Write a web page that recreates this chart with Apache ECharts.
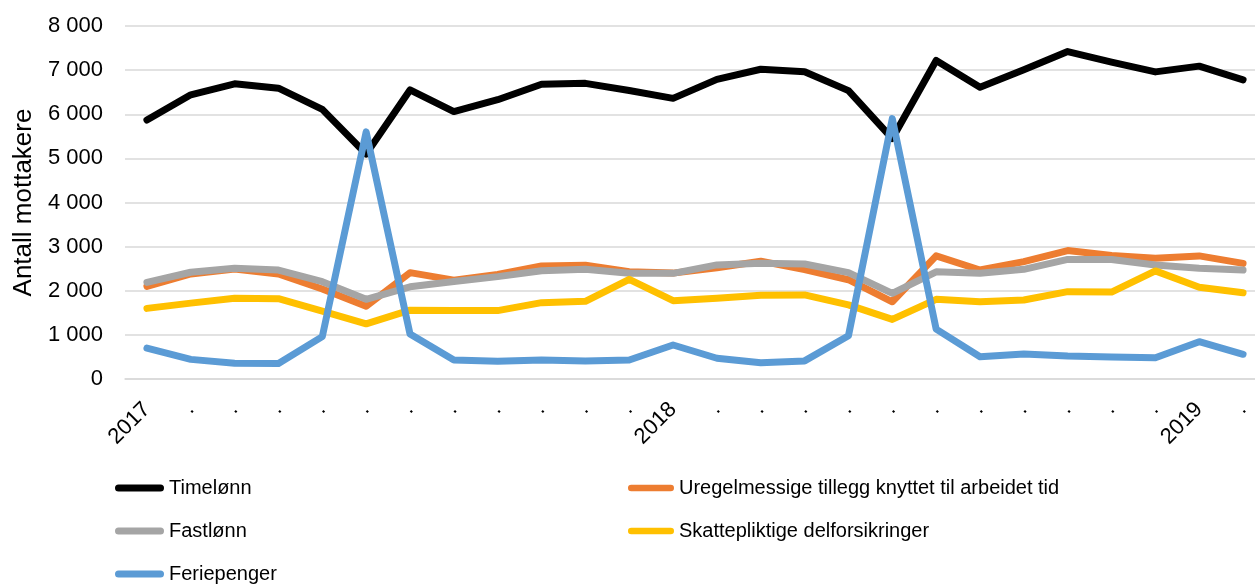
<!DOCTYPE html>
<html>
<head>
<meta charset="utf-8">
<script src="https://cdn.jsdelivr.net/npm/echarts@6/dist/echarts.min.js"></script>
<style>
  html, body { margin: 0; padding: 0; background: #fff; overflow: hidden; }
  /* a bit wider than the window: the last month is cut at the right edge */
  #chart { width: 1266px; height: 586px; }
</style>
</head>
<body>
<div id="chart"></div>
<script>
// months jan 2017 - feb 2019, only year starts are labelled
const months = ["2017", ".", ".", ".", ".", ".", ".", ".", ".", ".", ".", ".",
  "2018", ".", ".", ".", ".", ".", ".", ".", ".", ".", ".", ".",
  "2019", "."];

const timelonn = [5870, 6440, 6690, 6590, 6110, 5100, 6550, 6060, 6330, 6680, 6700, 6540,
  6360, 6790, 7020, 6965, 6535, 5450, 7220, 6610, 7010, 7420, 7180, 6960, 7090, 6780];
const uregelmessige = [2100, 2380, 2490, 2380, 2040, 1650, 2410, 2240, 2370, 2560, 2580, 2430,
  2400, 2520, 2670, 2480, 2250, 1750, 2790, 2470, 2660, 2910, 2800, 2735, 2790, 2620];
const fastlonn = [2190, 2420, 2510, 2470, 2205, 1805, 2090, 2210, 2320, 2455, 2485, 2395,
  2395, 2585, 2625, 2605, 2410, 1940, 2430, 2395, 2485, 2710, 2710, 2585, 2510, 2470];
const skattepliktige = [1600, 1720, 1830, 1820, 1540, 1250, 1560, 1550, 1550, 1730, 1760, 2260,
  1775, 1830, 1900, 1905, 1680, 1350, 1805, 1750, 1790, 1980, 1970, 2450, 2080, 1955];
const feriepenger = [700, 445, 355, 350, 960, 5600, 1020, 430, 400, 430, 410, 430,
  770, 470, 370, 410, 980, 5900, 1130, 505, 565, 520, 500, 480, 845, 560];

const yTicks = { min: 0, max: 8000, step: 1000 };

const font = "'Liberation Sans', Arial, sans-serif";
const fmt = v => String(v).replace(/\B(?=(\d{3})+(?!\d))/g, " ");
const pill = "path://M3.5,0 H45.5 A3.5,3.5 0 0 1 45.5,7 H3.5 A3.5,3.5 0 0 1 3.5,0 Z";

const mkLine = (name, data, color) => ({
  name: name,
  type: "line",
  data: data,
  color: color,
  showSymbol: false,
  symbol: "none",
  lineStyle: { width: 7, color: color, cap: "round", join: "round" },
  emphasis: { disabled: true }
});

const chart = echarts.init(document.getElementById("chart"));
chart.setOption({
  animation: false,
  textStyle: { fontFamily: font, color: "#000" },
  grid: { left: 125, top: 26, right: 1, bottom: 207, containLabel: false },
  legend: [
    {
      orient: "vertical",
      left: 115,
      top: 478,
      padding: 0,
      itemGap: 23,
      itemWidth: 49,
      itemHeight: 7,
      icon: pill,
      data: ["Timelønn", "Fastlønn", "Feriepenger"],
      textStyle: { fontFamily: font, fontSize: 20, color: "#000" }
    },
    {
      orient: "vertical",
      left: 628,
      top: 478,
      padding: 0,
      itemGap: 23,
      itemWidth: 46,
      itemHeight: 7,
      icon: pill,
      data: ["Uregelmessige tillegg knyttet til arbeidet tid", "Skattepliktige delforsikringer"],
      textStyle: { fontFamily: font, fontSize: 20, color: "#000" }
    }
  ],
  xAxis: {
    type: "category",
    data: months,
    boundaryGap: true,
    axisLine: { show: true, lineStyle: { color: "#d9d9d9", width: 1.5 } },
    axisTick: { show: false },
    axisLabel: { interval: 0, rotate: 45, margin: 27, fontSize: 22, color: "#000", fontFamily: font }
  },
  yAxis: {
    type: "value",
    min: yTicks.min,
    max: yTicks.max,
    interval: yTicks.step,
    name: "Antall mottakere",
    nameLocation: "middle",
    nameGap: 88,
    nameTextStyle: { fontSize: 26, color: "#000", fontFamily: font },
    axisLine: { show: false },
    axisTick: { show: false },
    axisLabel: { margin: 22, fontSize: 22, color: "#000", fontFamily: font, formatter: fmt },
    splitLine: { lineStyle: { color: "#d9d9d9", width: 1.5 } }
  },
  series: [
    mkLine("Timelønn", timelonn, "#000000"),
    mkLine("Uregelmessige tillegg knyttet til arbeidet tid", uregelmessige, "#ED7D31"),
    mkLine("Fastlønn", fastlonn, "#A5A5A5"),
    mkLine("Skattepliktige delforsikringer", skattepliktige, "#FFC000"),
    mkLine("Feriepenger", feriepenger, "#5B9BD5")
  ]
});
</script>
</body>
</html>
